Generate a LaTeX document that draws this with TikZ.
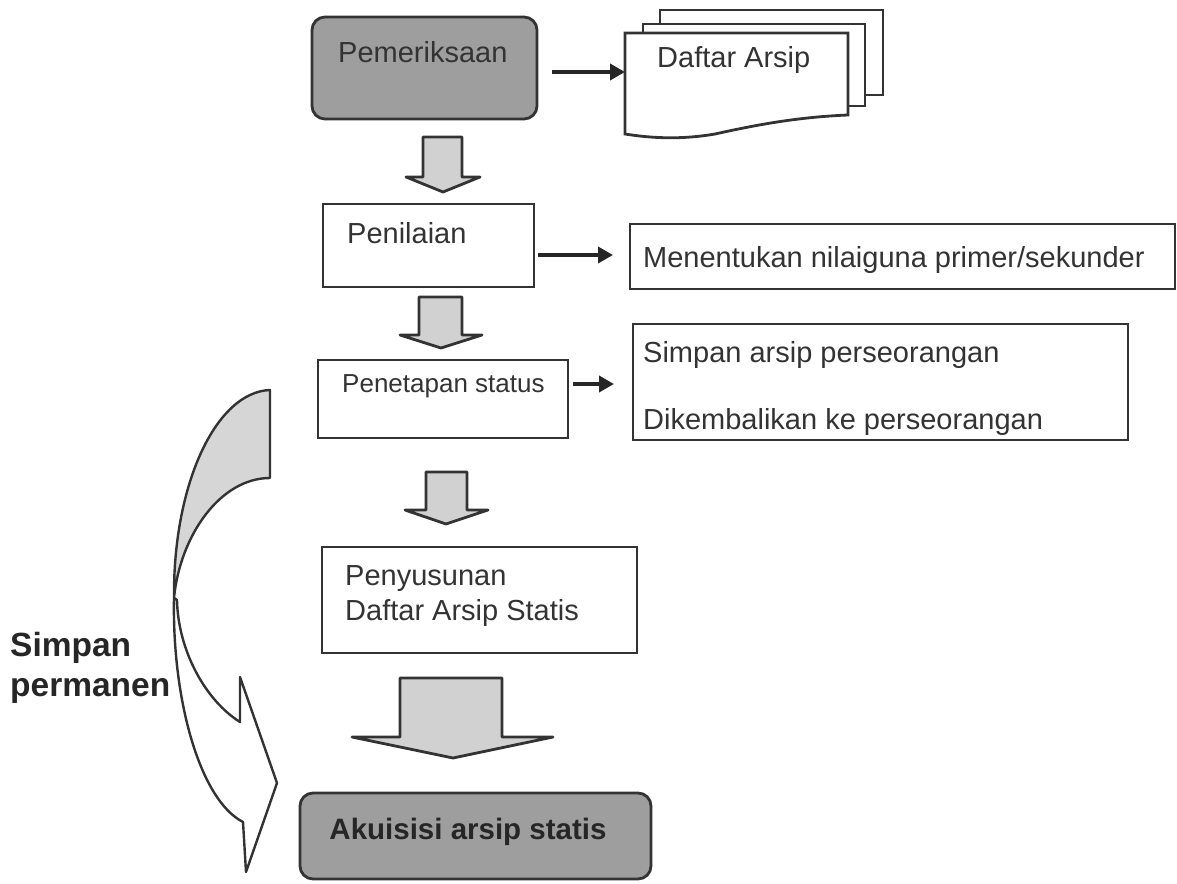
\documentclass[tikz,border=0pt]{standalone}
\usepackage{fontspec}
\setmainfont{Liberation Sans}
\usetikzlibrary{arrows.meta}
\begin{document}
\begin{tikzpicture}[x=1pt,y=-1pt,
  txt/.style={font=\fontsize{29}{34}\selectfont, text=black!80, inner sep=0pt},
  btxt/.style={font=\bfseries\fontsize{29.5}{34}\selectfont, text=black!85, inner sep=0pt},
  plainbox/.style={draw=black!80, line width=2.8pt, fill=white},
  graybox/.style={draw=black!80, line width=2.8pt, fill=black!38, rounded corners=13pt},
  blockarrow/.style={draw=black!80, line width=2.8pt, fill=black!18, line join=round},
  conn/.style={draw=black!85, line width=3.6pt, -{Triangle[length=15pt,width=16pt]}},
  ribbon/.style={draw=black!80, line width=2.4pt, line join=round}
]
\useasboundingbox (0,0) rectangle (1177,883);

% Pemeriksaan
\path[graybox] (312,17) rectangle (537,119);
\node[txt, anchor=west] (pem) at (338,52) {Pemeriksaan};
\coordinate (pemE) at (552,72);

% Daftar Arsip document stack
\path[plainbox] (660,10) rectangle (883,95);
\path[plainbox] (643,24) rectangle (865,106);
\path[plainbox] (625,33) -- (848,33) -- (848,115)
  .. controls (800,117) and (760,124) .. (715,134)
  .. controls (680,140) and (650,138) .. (625,134) -- cycle;
\coordinate (docW) at (625,72);
\node[txt, anchor=west] (daf) at (657,60) {Daftar Arsip};
\draw[conn] (pemE) -- (docW);

% block arrow 1
\path[blockarrow] (423,137) -- (462,137) -- (462,177) -- (480,177) -- (443,192) -- (406,177) -- (423,177) -- cycle;

% Penilaian
\path[plainbox] (323,204) rectangle (534,287);
\node[txt, anchor=west] (pen) at (347,233) {Penilaian};
\coordinate (penE) at (538,255);
\path[plainbox] (630,224) rectangle (1175,289);
\node[txt, anchor=west] (nil) at (643,260) {Menentukan nilaiguna primer/sekunder};
\coordinate (nilW) at (613,255);
\draw[conn] (penE) -- (nilW);

% block arrow 2
\path[blockarrow] (419,297) -- (462,297) -- (462,335) -- (482,335) -- (441,348) -- (400,335) -- (419,335) -- cycle;

% Penetapan status
\path[plainbox] (318,360) rectangle (568,438);
\node[txt, anchor=west, font=\fontsize{26}{30}\selectfont] (pst) at (342,386) {Penetapan status};
\coordinate (pstE) at (573,384);
\path[plainbox] (633,324) rectangle (1128,440);
\node[txt, anchor=west] (sim) at (643,355) {Simpan arsip perseorangan};
\node[txt, anchor=west] (dik) at (643,422) {Dikembalikan ke perseorangan};
\coordinate (simW) at (614,384);
\draw[conn] (pstE) -- (simW);

% block arrow 3
\path[blockarrow] (426,472) -- (467,472) -- (467,510) -- (488,510) -- (446,524) -- (405,510) -- (426,510) -- cycle;

% Penyusunan
\path[plainbox] (322,547) rectangle (637,653);
\node[txt, anchor=west] (psy) at (345,579) {Penyusunan};
\node[txt, anchor=west] (das) at (345,613) {Daftar Arsip Statis};

% block arrow 4
\path[blockarrow] (400,678) -- (502,678) -- (502,737) -- (553,737) -- (453,758) -- (352,737) -- (400,737) -- cycle;

% Akuisisi
\path[graybox] (300,793) rectangle (651,879);
\node[btxt] (aku) at (468,832) {Akuisisi arsip statis};

% curved ribbon arrow
\path[ribbon, fill=black!16] (270,390) .. controls (216,392) and (173,484) .. (174,598)
  .. controls (180,536) and (220,478) .. (270,478) -- cycle;
\path[ribbon, fill=white] (174,598) .. controls (172,700) and (200,800) .. (243,822)
  -- (246,872) -- (277,783) -- (240,677) -- (240,722)
  .. controls (205,700) and (178,650) .. (177,600) -- cycle;

\node[btxt, anchor=west, font=\bfseries\fontsize{33.5}{38}\selectfont] (simp) at (10,648) {Simpan};
\node[btxt, anchor=west, font=\bfseries\fontsize{33.5}{38}\selectfont] (perm) at (10,691) {permanen};
\end{tikzpicture}
\end{document}
